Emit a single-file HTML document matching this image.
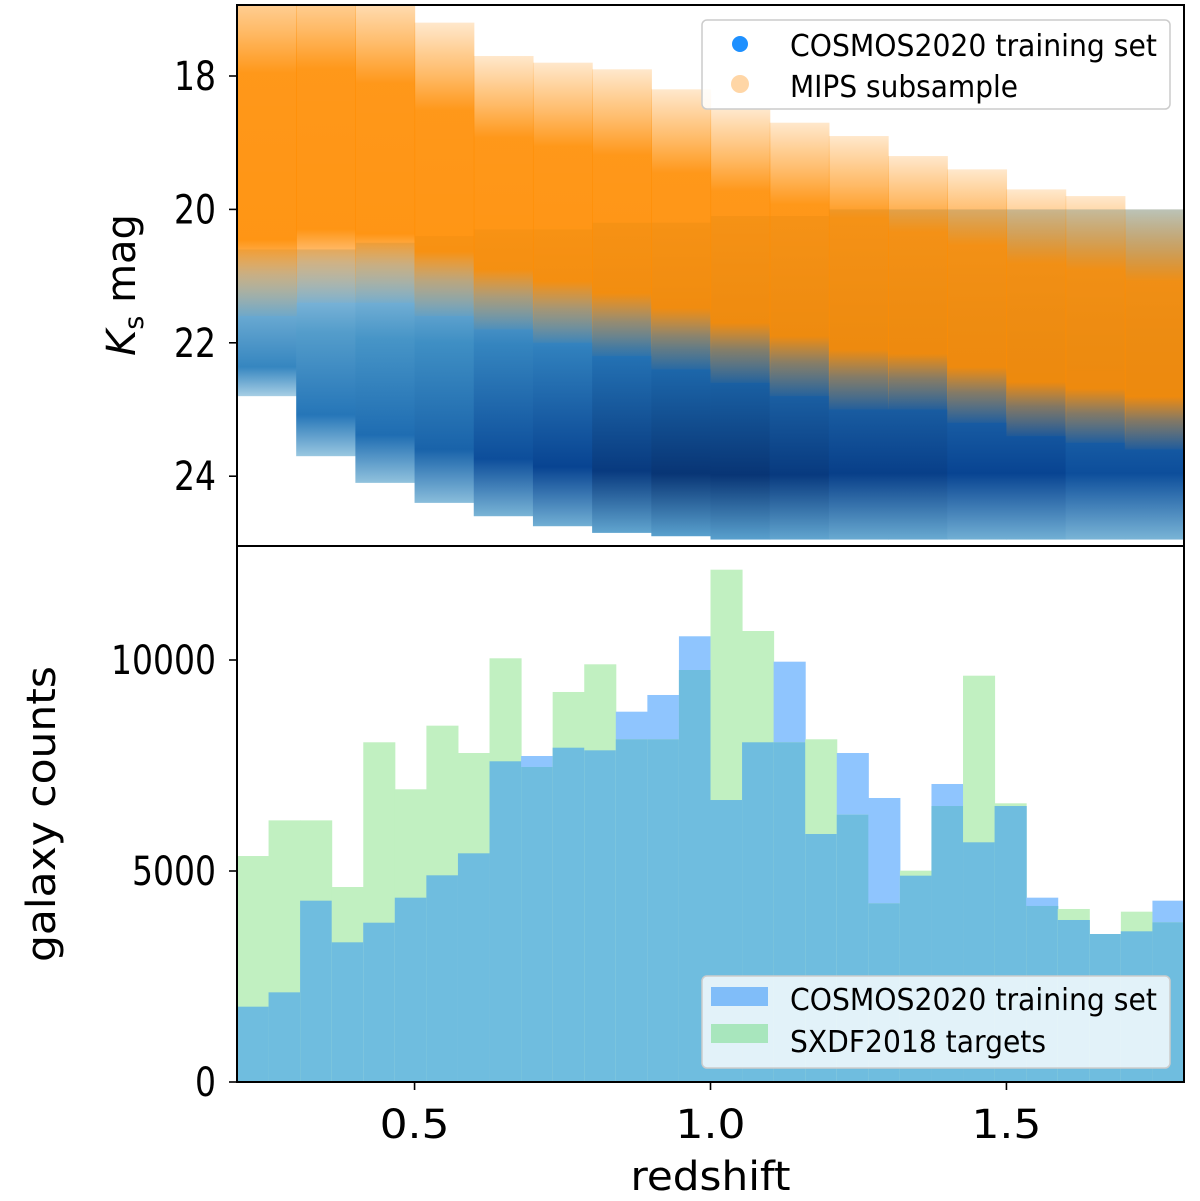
<!DOCTYPE html>
<html><head><meta charset="utf-8"><style>
html,body{margin:0;padding:0;background:#fff;}
svg{display:block;font-family:"DejaVu Sans","Liberation Sans",sans-serif;}
</style></head><body>
<svg id="chart" width="1200" height="1201" viewBox="0 0 1200 1201" xmlns="http://www.w3.org/2000/svg">
<defs id="defs"><clipPath id="c1"><rect x="237" y="5" width="947" height="541"></rect></clipPath></defs>
<g id="topPanel" clip-path="url(#c1)"></g>
<g id="bottomPanel"></g>
<g id="axesGroup"></g>
</svg>
<script>
// ---- Bottom histogram data (30 bins, 0.2 to 1.8) ----
const binCount = 30;
const cosmosCounts = [1785,2125,4297,3310,3775,4368,4898,5419,7600,7725,7922,7860,8775,9171,10562,6682,8050,9960,5877,7796,6730,4889,7062,5680,6540,4368,3839,3507,3571,4297];
const sxdfCounts = [5355,6200,6200,4621,8050,6936,8444,7796,10040,7465,9242,9898,8121,8121,9763,12140,10687,8050,8121,6335,4234,5008,6540,9628,6604,4171,4100,3507,4036,3784];
const histYTicks = [0,5000,10000];
const xTicks = [0.5,1.0,1.5];
const xTickLabels = ["0.5","1.0","1.5"];
// ---- Top panel data (16 redshift columns, centers 0.25..1.75) ----
const colCenters = [0.25,0.35,0.45,0.55,0.65,0.75,0.85,0.95,1.05,1.15,1.25,1.35,1.45,1.55,1.65,1.75];
const orangeBright = [17.0,17.0,17.3,17.8,18.3,18.4,18.5,18.8,19.1,19.3,19.5,19.8,20.0,20.3,20.4,20.6];
const orangeFaint = [20.8,20.6,20.6,20.8,21.0,21.2,21.4,21.6,21.8,22.0,22.2,22.2,22.4,22.6,22.7,22.8];
const blueBright = [20.6,20.6,20.5,20.4,20.3,20.3,20.2,20.2,20.1,20.1,20.0,20.0,20.0,20.0,20.0,20.0];
const blueFaint = [22.8,23.7,24.1,24.4,24.6,24.75,24.85,24.9,24.95,24.95,24.95,24.95,24.95,24.95,24.95,24.95];
const blueDepth = [0.5,0.6,0.65,0.7,0.8,0.85,0.95,1.0,1.0,0.95,0.9,0.9,0.85,0.85,0.8,0.8];
const magTicks = [18,20,22,24];

const NS="http://www.w3.org/2000/svg";
const L=237,R=1184,T1=5,B1=546,T2=546,B2=1082;
const xs=z=>L+(z-0.2)/(1.6)*(R-L);
const ym=m=>76+(m-18)*66.7;
const yc=c=>B2-c/5000*211;
function mk(tag,attrs,parent){const e=document.createElementNS(NS,tag);for(const k in attrs)e.setAttribute(k,attrs[k]);parent.appendChild(e);return e;}
const defsEl=document.getElementById('defs');
const topG=document.getElementById('topPanel'),botG=document.getElementById('bottomPanel'),axG=document.getElementById('axesGroup');
function blueShade(d,t){
  const cs=[[222,235,247],[158,202,225],[66,146,198],[33,113,181],[8,69,148],[8,48,107]];
  const k=Math.min(1,d*t)*(cs.length-1);const i=Math.min(cs.length-2,Math.floor(k));const f=k-i;
  return 'rgb('+cs[i].map((v,j)=>Math.round(v+(cs[i+1][j]-v)*f)).join(',')+')';}
const colW=(R-L)/16;
colCenters.forEach((z,i)=>{
  const x=xs(z)-colW/2;
  const g=mk('linearGradient',{id:'bg'+i,x1:0,y1:0,x2:0,y2:1},defsEl);
  mk('stop',{offset:'0',"stop-color":blueShade(blueDepth[i],0.2)},g);
  mk('stop',{offset:'0.4',"stop-color":blueShade(blueDepth[i],0.6)},g);
  mk('stop',{offset:'0.8',"stop-color":blueShade(blueDepth[i],0.95)},g);
  mk('stop',{offset:'1',"stop-color":blueShade(blueDepth[i],0.35)},g);
  const r=mk('rect',{x:x,y:ym(blueBright[i]),width:colW+0.6,height:ym(blueFaint[i])-ym(blueBright[i]),fill:'url(#bg'+i+')'},topG);
  
  
});
colCenters.forEach((z,i)=>{
  const x=xs(z)-colW/2;
  const g=mk('linearGradient',{id:'og'+i,x1:0,y1:0,x2:0,y2:1},defsEl);
  mk('stop',{offset:'0',"stop-color":'#ff8c00',"stop-opacity":'0.2'},g);
  mk('stop',{offset:'0.18',"stop-color":'#ff8c00',"stop-opacity":'0.6'},g);
  mk('stop',{offset:'0.3',"stop-color":'#ff8c00',"stop-opacity":'0.9'},g);
  mk('stop',{offset:'0.78',"stop-color":'#ff8c00',"stop-opacity":'0.92'},g);
  mk('stop',{offset:'0.88',"stop-color":'#ff9010',"stop-opacity":'0.45'},g);
  mk('stop',{offset:'1',"stop-color":'#ff9a20',"stop-opacity":'0.05'},g);
  const y0=ym(orangeBright[i]-0.6),y1=ym(orangeFaint[i]+0.8);
  const r=mk('rect',{x:x,y:y0,width:colW+0.6,height:y1-y0,fill:'url(#og'+i+')'},topG);
  
  
});
const bw=(R-L)/binCount;
for(let i=0;i<binCount;i++){
  const x=L+i*bw;
  const b=mk('rect',{x:x,y:yc(cosmosCounts[i]),width:bw+0.5,height:B2-yc(cosmosCounts[i]),fill:'#8fc5fe'},botG);
  
  
  const g=mk('rect',{x:x,y:yc(sxdfCounts[i]),width:bw+0.5,height:B2-yc(sxdfCounts[i]),fill:'#c1f0c1'},botG);
  
  
  const m=Math.min(cosmosCounts[i],sxdfCounts[i]);
  const o=mk('rect',{x:x,y:yc(m),width:bw+0.5,height:B2-yc(m),fill:'#6fbddf'},botG);
  
  
}
mk('rect',{x:L,y:T1,width:R-L,height:B1-T1,fill:'none',stroke:'#000','stroke-width':2},axG);
mk('rect',{x:L,y:T2,width:R-L,height:B2-T2,fill:'none',stroke:'#000','stroke-width':2},axG);
function txt(s,attrs,name,len){const t=mk('text',attrs,axG);t.textContent=s;if(len){t.setAttribute('textLength',len);t.setAttribute('lengthAdjust','spacingAndGlyphs');}return t;}
magTicks.forEach(m=>{mk('line',{x1:L-8,x2:L,y1:ym(m),y2:ym(m),stroke:'#000','stroke-width':1.6},axG);
  txt(String(m),{x:L-21,y:ym(m)+14,'text-anchor':'end','font-size':40},'y-tick-label',String(m).length*21);});
histYTicks.forEach(c=>{mk('line',{x1:L-8,x2:L,y1:yc(c),y2:yc(c),stroke:'#000','stroke-width':1.6},axG);
  txt(String(c),{x:L-21,y:yc(c)+14,'text-anchor':'end','font-size':40},'y-tick-label',String(c).length*21);});
xTicks.forEach((z,i)=>{mk('line',{x1:xs(z),x2:xs(z),y1:B2,y2:B2+8,stroke:'#000','stroke-width':1.6},axG);
  txt(xTickLabels[i],{x:xs(z),y:B2+56,'text-anchor':'middle','font-size':40},'x-tick-label',70);});
txt('redshift',{x:xs(1.0),y:1190,'text-anchor':'middle','font-size':40},'x-axis-title',160);
const yt=txt('',{transform:'translate(135,285) rotate(-90)','text-anchor':'middle','font-size':40},'y-axis-title-top');
const t1=mk('tspan',{'font-style':'italic'},yt);t1.textContent='K';
const t2=mk('tspan',{'font-size':27,dy:8},yt);t2.textContent='s';
const t3=mk('tspan',{dy:-8},yt);t3.textContent=' mag';
txt('galaxy counts',{transform:'translate(55,814) rotate(-90)','text-anchor':'middle','font-size':40},'y-axis-title-bottom',296);
const lg1=mk('g',{},axG);


mk('rect',{x:702,y:20,width:468,height:89,rx:5,fill:'#fff','fill-opacity':0.85,stroke:'#ccc','stroke-width':1.5},lg1);
mk('circle',{cx:740,cy:44,r:8,fill:'#1e90ff'},lg1);
mk('circle',{cx:740,cy:84,r:9,fill:'#ffd6a6'},lg1);
txt('COSMOS2020 training set',{x:790,y:56,'font-size':30},'legend-entry-cosmos',367);
txt('MIPS subsample',{x:790,y:97,'font-size':30},'legend-entry-mips',228);
const lg2=mk('g',{},axG);


mk('rect',{x:702,y:976,width:468,height:92,rx:5,fill:'#fff','fill-opacity':0.8,stroke:'#ccc','stroke-width':1.5},lg2);
mk('rect',{x:711,y:987,width:57,height:19,fill:'#80bdf9'},lg2);
mk('rect',{x:711,y:1024,width:57,height:19,fill:'#a8e6bd'},lg2);
txt('COSMOS2020 training set',{x:790,y:1010,'font-size':30},'legend-entry-cosmos-hist',367);
txt('SXDF2018 targets',{x:790,y:1052,'font-size':30},'legend-entry-sxdf',256);
</script>
</body></html>
